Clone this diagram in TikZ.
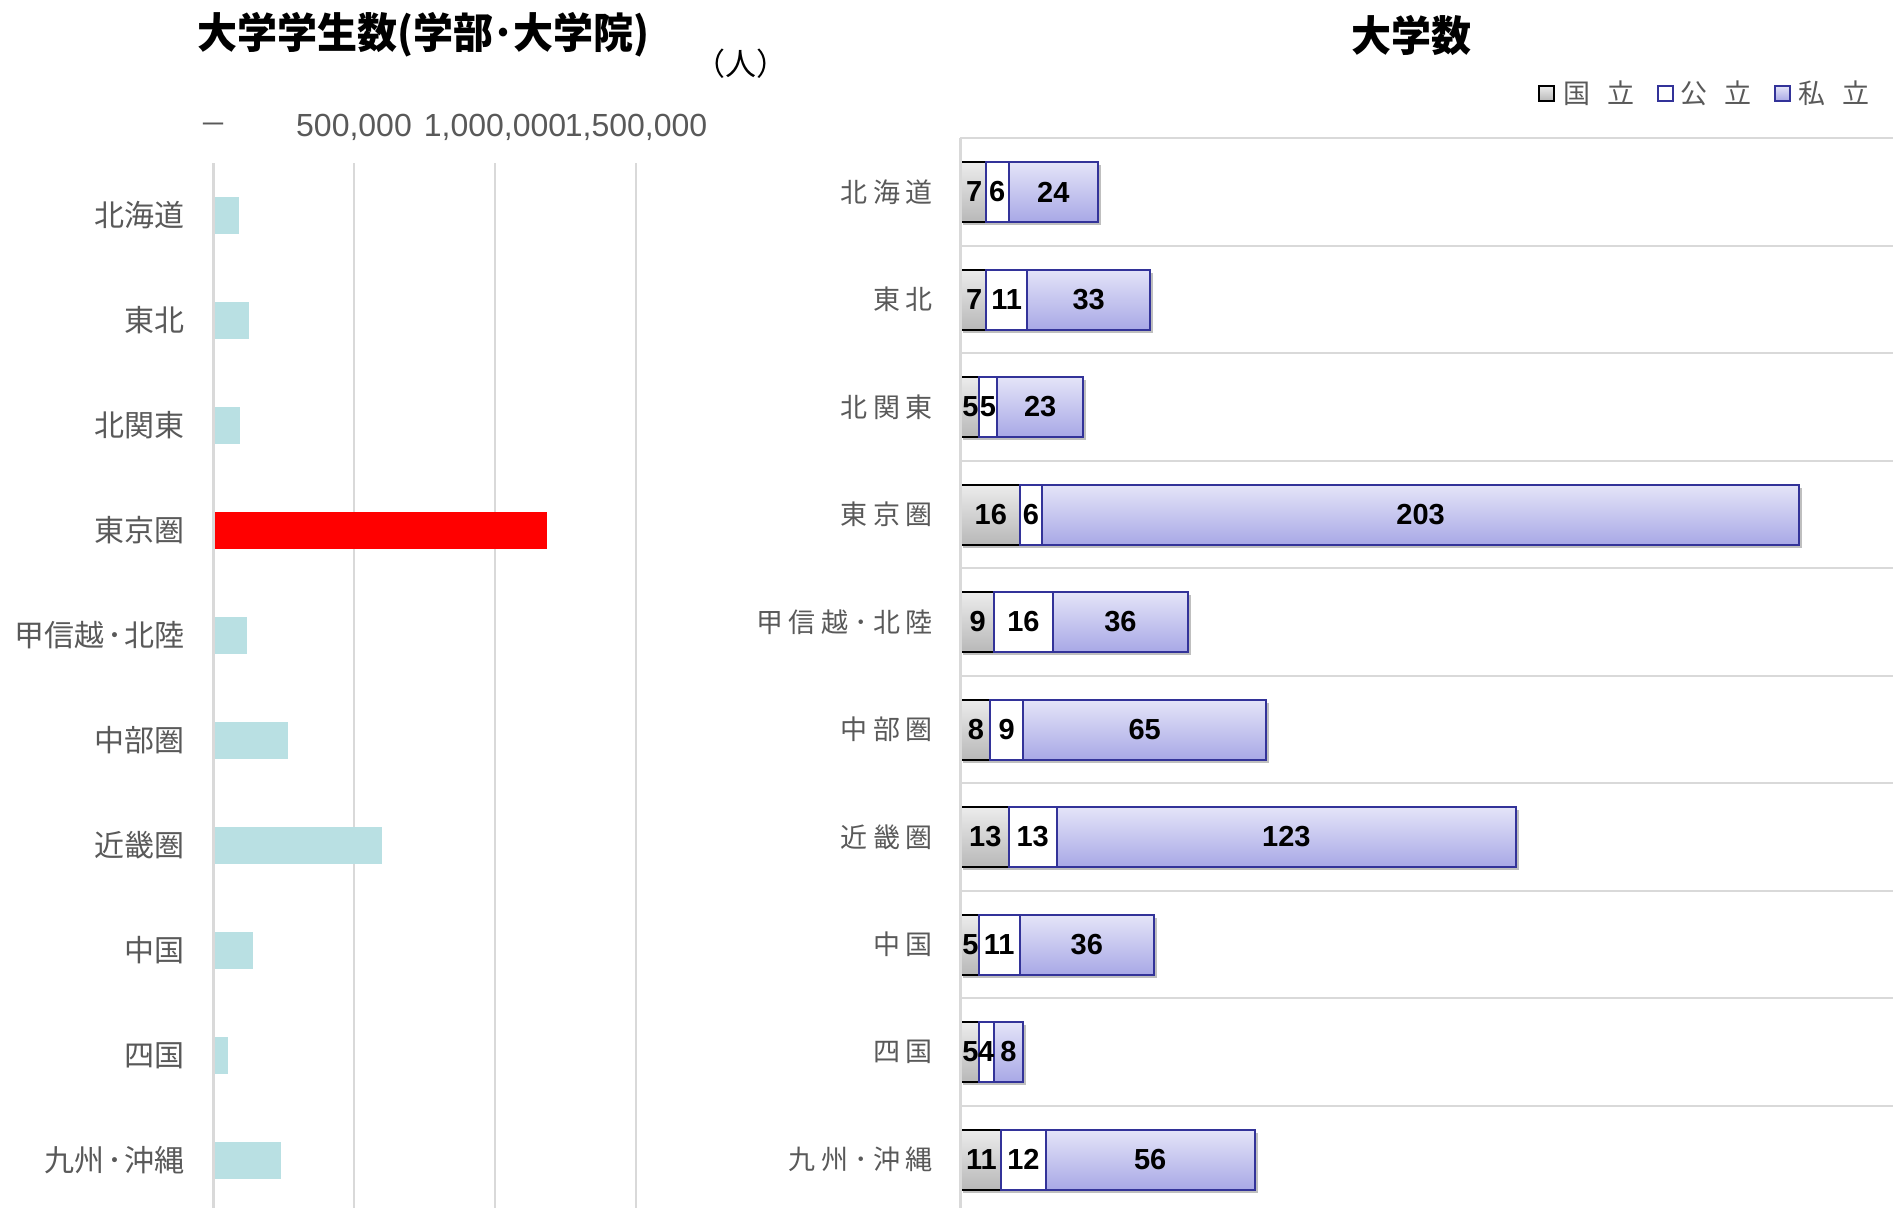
\documentclass[tikz,border=0pt]{standalone}
\usepackage{fontspec}
\setmainfont{Liberation Sans}
\newfontfamily\jp{Noto Sans CJK JP}
\usetikzlibrary{shadows}
\definecolor{axgray}{RGB}{217,217,217}
\definecolor{txtgray}{RGB}{89,89,89}
\definecolor{barteal}{RGB}{185,224,227}
\definecolor{navyedge}{RGB}{51,51,153}
\definecolor{lavtop}{RGB}{228,228,248}
\definecolor{lavbot}{RGB}{168,168,230}
\definecolor{graytop}{RGB}{236,236,236}
\definecolor{graybot}{RGB}{184,184,184}
\newcommand\jsp{\hspace{5.6pt}}
\begin{document}
\begin{tikzpicture}[x=1pt,y=-1pt,
  axisline/.style={draw=axgray,line width=3pt},
  gridline/.style={draw=axgray,line width=2.2pt},
  catlab/.style={font=\jp\fontsize{30}{36}\selectfont,text=txtgray,anchor=east,inner sep=0pt},
  rcatlab/.style={font=\jp\fontsize{27}{32}\selectfont,text=txtgray,anchor=east,inner sep=0pt},
  ticklab/.style={font=\fontsize{32}{38}\selectfont,text=txtgray,inner sep=0pt},
  ttl/.style={font=\jp\bfseries\fontsize{40}{48}\selectfont,inner sep=0pt},
  shad/.style={drop shadow={shadow xshift=3pt,shadow yshift=-3pt,opacity=0.25,fill=black}},
  koku/.style={top color=graytop,bottom color=graybot,draw=black,line width=2pt},
  kou/.style={fill=white,draw=navyedge,line width=2pt},
  shi/.style={top color=lavtop,bottom color=lavbot,draw=navyedge,line width=2pt},
  num/.style={font=\bfseries\fontsize{29}{34}\selectfont,inner sep=0pt},
  legtxt/.style={font=\jp\fontsize{27}{32}\selectfont,text=txtgray,anchor=west,inner sep=0pt},
  legbox/.style={minimum size=15pt,inner sep=0pt,line width=2pt}]
\useasboundingbox (0,0) rectangle (1899,1208);

% ---------- left chart ----------
\node[ttl,yscale=1.05] (t1) at (423,35) {大学学生数(学部･大学院)};
\node[font=\jp\fontsize{31}{36}\selectfont,inner sep=0pt] (unit) at (741,64) {（人）};
\node[ticklab,font=\jp\fontsize{28}{32}\selectfont] (tk0) at (213,129) {－};
\node[ticklab] (tk1) at (354,127.5) {500,000};
\node[ticklab] (tk2) at (495,127.5) {1,000,000};
\node[ticklab] (tk3) at (636,127.5) {1,500,000};
\foreach \gx in {354,495,636}{\draw[gridline] (\gx,163) -- (\gx,1208);}
\foreach \i/\lab/\e/\col in {0/北海道/238.7/barteal,1/東北/248.7/barteal,2/北関東/239.7/barteal,
  3/東京圏/547/red,4/甲信越\hspace{2.5pt}･\hspace{2.5pt}北陸/247/barteal,5/中部圏/288/barteal,
  6/近畿圏/382/barteal,7/中国/253/barteal,8/四国/227.7/barteal,9/九州\hspace{2.5pt}･\hspace{2.5pt}沖縄/281.3/barteal}{
  \pgfmathsetmacro\yy{215.3+105*\i}
  \node[catlab] (lc\i) at (185,\yy) {\lab};
  \fill[\col] (213,\yy-18.5) rectangle (\e,\yy+18.5);
}
\draw[axisline] (213,163) -- (213,1208);

% ---------- right chart ----------
\node[ttl,yscale=1.05] (t2) at (1411,35) {大学数};
\node[legbox,koku,draw=black] (lg1) at (1546.5,93.5) {};
\node[legtxt] (lg1t) at (lg1.east) [xshift=8pt] {国\hspace{17pt}立};
\node[legbox,kou] (lg2) at (1665,93.5) {};
\node[legtxt] (lg2t) at (lg2.east) [xshift=7pt] {公\hspace{17pt}立};
\node[legbox,shi] (lg3) at (1782,93.5) {};
\node[legtxt] (lg3t) at (lg3.east) [xshift=8pt] {私\hspace{17pt}立};

\foreach \k in {0,...,9}{\draw[gridline] (960,138.3+107.5*\k) -- (1893,138.3+107.5*\k);}
\foreach \i/\lab/\a/\b/\c in {0/北\jsp{}海\jsp{}道/7/6/24,1/東\jsp{}北/7/11/33,2/北\jsp{}関\jsp{}東/5/5/23,
  3/東\jsp{}京\jsp{}圏/16/6/203,4/甲\jsp{}信\jsp{}越\jsp{}･\jsp{}北\jsp{}陸/9/16/36,5/中\jsp{}部\jsp{}圏/8/9/65,
  6/近\jsp{}畿\jsp{}圏/13/13/123,7/中\jsp{}国/5/11/36,8/四\jsp{}国/5/4/8,9/九\jsp{}州\jsp{}･\jsp{}沖\jsp{}縄/11/12/56}{
  \pgfmathsetmacro\yy{192+107.5*\i}
  \pgfmathsetmacro\xa{960+3.73*\a}
  \pgfmathsetmacro\xb{\xa+3.73*\b}
  \pgfmathsetmacro\xc{\xb+3.73*\c}
  \node[rcatlab] (rc\i) at (933,\yy) {\lab};
  \path[koku,shad] (960,\yy-30) rectangle (\xa,\yy+30);
  \path[kou,shad] (\xa,\yy-30) rectangle (\xb,\yy+30);
  \path[shi,shad] (\xb,\yy-30) rectangle (\xc,\yy+30);
  \node[num] (na\i) at ({(960+\xa)/2+1},\yy) {\a};
  \node[num] (nb\i) at ({(\xa+\xb)/2},\yy) {\b};
  \node[num] (nc\i) at ({(\xb+\xc)/2},\yy) {\c};
}
\draw[axisline] (960,138) -- (960,1208);
\end{tikzpicture}
\end{document}
